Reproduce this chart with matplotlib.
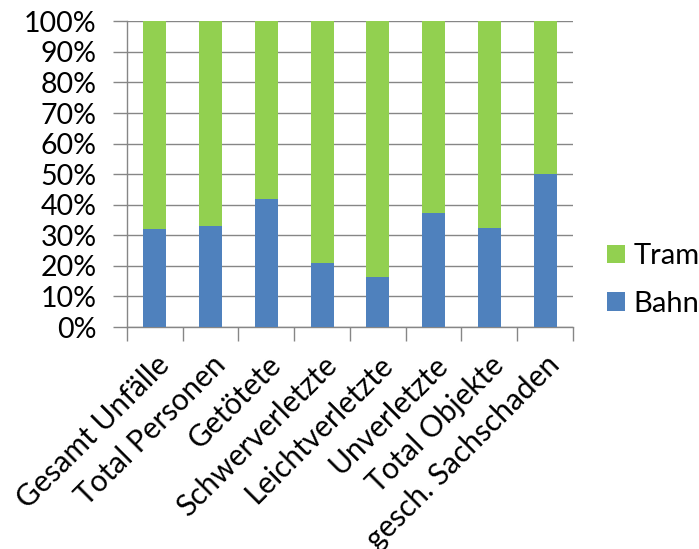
import matplotlib
matplotlib.use("Agg")
import matplotlib.pyplot as plt
import numpy as np
from matplotlib.ticker import FixedLocator, PercentFormatter

categories = ["Gesamt Unfälle", "Total Personen", "Getötete", "Schwerverletzte",
              "Leichtverletzte", "Unverletzte", "Total Objekte", "gesch. Sachschaden"]
bahn = [32.0, 33.0, 42.0, 21.0, 16.3, 37.4, 32.4, 50.0]
tram = [100 - b for b in bahn]
yticks = list(range(0, 101, 10))

plt.rcParams['font.family'] = ['Lato', 'DejaVu Sans']

fig = plt.figure(figsize=(6.99, 5.49), dpi=100)
ax = fig.add_axes([127/699, 1 - 327/549, 446/699, (327 - 21.3)/549])

x = np.arange(len(categories))
blue = "#4F81BD"
green = "#92D050"
ax.bar(x, bahn, width=0.41, color=blue, label="Bahn", zorder=3)
ax.bar(x, tram, width=0.41, bottom=bahn, color=green, label="Tram", zorder=3)

ax.set_xlim(-0.5, len(categories) - 0.5)
ax.set_ylim(0, 100)
ax.set_yticks(yticks)
ax.yaxis.set_major_formatter(PercentFormatter(decimals=0))
ax.yaxis.grid(True, color="#868686", linewidth=1.0, zorder=0)
ax.tick_params(axis='y', length=10, color="#868686", labelsize=20.5, pad=12, width=1.0)

ax.set_xticks(x)
ax.set_xticklabels(categories, rotation=45, ha='right', rotation_mode='anchor', fontsize=21.5)
ax.tick_params(axis='x', which='major', length=0, pad=17)
ax.xaxis.set_minor_locator(FixedLocator(np.arange(-0.5, len(categories), 1.0)))
ax.tick_params(axis='x', which='minor', length=10, color="#868686", width=1.0)

for s in ['top', 'right']:
    ax.spines[s].set_visible(False)
for s in ['left', 'bottom']:
    ax.spines[s].set_color("#868686")
    ax.spines[s].set_linewidth(1.0)

handles, labels = ax.get_legend_handles_labels()
leg = fig.legend(handles[::-1], labels[::-1], loc='center left',
                 bbox_to_anchor=(607/699, 1 - 280/549), frameon=False,
                 fontsize=21, handlelength=0.6, handleheight=0.6,
                 handletextpad=0.3, labelspacing=0.75, borderaxespad=0, borderpad=0)

fig.savefig("out.png", dpi=100)
